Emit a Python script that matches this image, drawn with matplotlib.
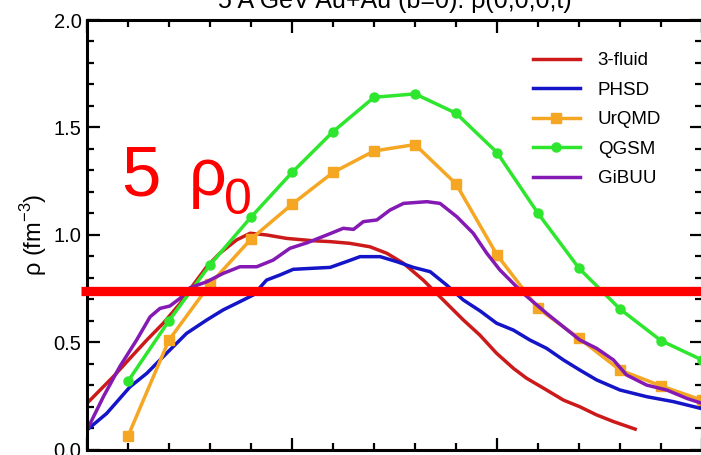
import matplotlib
matplotlib.use("Agg")
import matplotlib.pyplot as plt
from matplotlib.ticker import MultipleLocator

plt.rcParams['font.family'] = ['Liberation Sans', 'DejaVu Sans']

# ---- data ----
title = "5 A GeV Au+Au (b=0): ρ(0,0,0,t)"
ylabel = "ρ (fm$^{\\mathregular{-3}}$)"
series_names = ["3-fluid", "PHSD", "UrQMD", "QGSM", "GiBUU"]

fluid_t = [0, 0.32, 0.64, 1.05, 1.46, 1.86, 2.27, 2.59, 2.92, 3.24, 3.65, 3.98, 4.38, 4.87,
           5.52, 5.93, 6.41, 6.9, 7.31, 7.72, 8.2, 8.69, 9.18, 9.58, 9.99, 10.4, 10.72,
           11.21, 11.62, 12.02, 12.43, 12.84, 13.37]
fluid_rho = [0.215, 0.277, 0.339, 0.425, 0.51, 0.588, 0.68, 0.766, 0.851, 0.914, 0.976,
             1.007, 0.999, 0.983, 0.972, 0.968, 0.96, 0.944, 0.914, 0.867, 0.789, 0.696,
             0.603, 0.533, 0.448, 0.378, 0.332, 0.277, 0.23, 0.199, 0.161, 0.13, 0.095]

phsd_t = [0, 0.48, 1.05, 1.46, 1.94, 2.43, 2.92, 3.32, 3.81, 4.06, 4.38, 4.71, 5.03, 5.52,
          5.93, 6.33, 6.66, 7.15, 7.55, 7.96, 8.37, 8.77, 9.18, 9.59, 9.99, 10.4, 10.8,
          11.21, 11.62, 12.02, 12.43, 13.0, 13.65, 14.3, 15.0]
phsd_rho = [0.091, 0.168, 0.292, 0.355, 0.448, 0.541, 0.603, 0.65, 0.696, 0.72, 0.789,
            0.813, 0.839, 0.844, 0.848, 0.875, 0.898, 0.898, 0.875, 0.848, 0.828, 0.766,
            0.696, 0.645, 0.588, 0.556, 0.51, 0.471, 0.417, 0.37, 0.324, 0.277, 0.246,
            0.223, 0.19]

urqmd_t = [1, 2, 3, 4, 5, 6, 7, 8, 9, 10, 11, 12, 13, 14, 15]
urqmd_rho = [0.062, 0.51, 0.77, 0.98, 1.142, 1.29, 1.39, 1.42, 1.237, 0.906, 0.657,
             0.518, 0.37, 0.296, 0.23]

qgsm_t = [1, 2, 3, 4, 5, 6, 7, 8, 9, 10, 11, 12, 13, 14, 15]
qgsm_rho = [0.318, 0.60, 0.86, 1.082, 1.29, 1.48, 1.64, 1.656, 1.566, 1.383, 1.10,
            0.844, 0.654, 0.507, 0.417]

gibuu_t = [0, 0.4, 0.8, 1.21, 1.54, 1.78, 2.02, 2.27, 2.51, 2.92, 3.32, 3.73, 4.14, 4.54,
           4.95, 5.36, 5.85, 6.25, 6.5, 6.74, 7.07, 7.39, 7.72, 8.29, 8.61, 9.02, 9.42,
           9.75, 10.07, 10.64, 11.21, 12.02, 12.43, 12.84, 13.16, 13.65, 14.14, 14.63, 15.0]
gibuu_rho = [0.091, 0.246, 0.386, 0.51, 0.618, 0.657, 0.668, 0.704, 0.753, 0.781, 0.82,
             0.851, 0.851, 0.882, 0.937, 0.962, 0.999, 1.03, 1.025, 1.061, 1.069, 1.115,
             1.146, 1.154, 1.146, 1.084, 1.007, 0.914, 0.836, 0.727, 0.634, 0.51, 0.471,
             0.417, 0.347, 0.30, 0.277, 0.238, 0.215]

threshold_rho = 0.74
threshold_t = [-0.15, 15]
annot_num = "5"
annot_rho = "ρ"
annot_sub = "0"

# ---- figure ----
W, H = 701, 455
fig = plt.figure(figsize=(W / 100, H / 100), dpi=100)
ax = fig.add_axes([87 / W, 5.5 / H, 615 / W, 429.5 / H])

lw = 2.5
ax.plot(fluid_t, fluid_rho, color='#cc1a1a', lw=lw, label=series_names[0])
ax.plot(phsd_t, phsd_rho, color='#1414c8', lw=lw, label=series_names[1])
ax.plot(urqmd_t, urqmd_rho, color='#f5a623', lw=lw, marker='s', ms=6.5, label=series_names[2])
ax.plot(qgsm_t, qgsm_rho, color='#2ee62e', lw=lw, marker='o', ms=6.5, label=series_names[3])
ax.plot(gibuu_t, gibuu_rho, color='#8419b4', lw=lw, label=series_names[4])

ax.plot(threshold_t, [threshold_rho, threshold_rho], color='#ff0000', lw=6.7,
        solid_capstyle='butt', clip_on=False, zorder=10)

ax.set_xlim(0, 15)
ax.set_ylim(0, 2.0)
ax.xaxis.set_major_locator(MultipleLocator(5))
ax.xaxis.set_minor_locator(MultipleLocator(1))
ax.yaxis.set_major_locator(MultipleLocator(0.5))
ax.yaxis.set_minor_locator(MultipleLocator(0.1))
ax.yaxis.set_major_formatter(plt.FormatStrFormatter('%.1f'))
ax.tick_params(which='both', direction='in', top=True, right=True, width=1.6,
               labelsize=14.5, pad=4)
ax.tick_params(which='major', length=9)
ax.tick_params(which='minor', length=5)
for s in ax.spines.values():
    s.set_linewidth(2.2)

ax.set_ylabel(ylabel, fontsize=17, labelpad=3)
ax.set_title(title, fontsize=18, pad=9)

ax.legend(loc='upper left', bbox_to_anchor=(533 / W, 1 - 52 / H),
          bbox_transform=fig.transFigure, frameon=False, fontsize=13.5,
          handlelength=2.5, handletextpad=0.95, labelspacing=0.66,
          borderpad=0, borderaxespad=0)

fig.text(121 / W, 1 - 195 / H, annot_num, color='#ff0000', fontsize=51,
         ha='left', va='baseline')
fig.text(189 / W, 1 - 195 / H, annot_rho, color='#ff0000', fontsize=48,
         ha='left', va='baseline')
fig.text(224 / W, 1 - 214 / H, annot_sub, color='#ff0000', fontsize=36,
         ha='left', va='baseline')

fig.savefig("out.png", dpi=100)
